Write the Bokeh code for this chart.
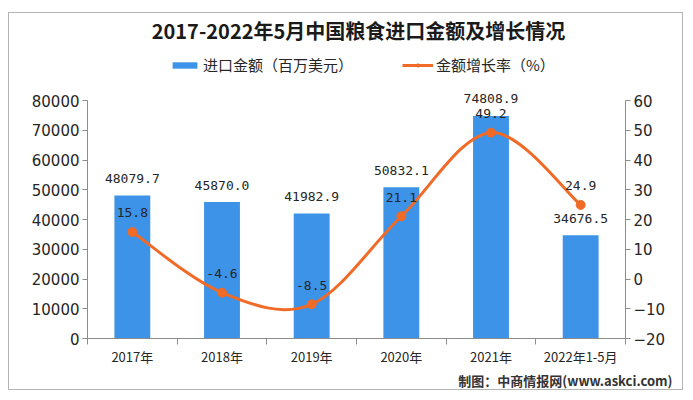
from bokeh.plotting import figure
from bokeh.models import (Range1d, LinearAxis, FixedTicker, ColumnDataSource, Title, Label,
                          Legend, LegendItem, LabelSet, NumeralTickFormatter)
from bokeh.core.properties import value
from bokeh.embed import file_html
from bokeh.resources import INLINE

# ---------------- data ----------------
categories = ["2017年", "2018年", "2019年", "2020年", "2021年", "2022年1-5月"]
import_value = [48079.7, 45870.0, 41982.9, 50832.1, 74808.9, 34676.5]   # 百万美元
growth_rate = [15.8, -4.6, -8.5, 21.1, 49.2, 24.9]                      # %
value_labels = ["48079.7", "45870.0", "41982.9", "50832.1", "74808.9", "34676.5"]
rate_labels = ["15.8", "-4.6", "-8.5", "21.1", "49.2", "24.9"]
left_ticks = [0, 10000, 20000, 30000, 40000, 50000, 60000, 70000, 80000]
right_ticks = [-20, -10, 0, 10, 20, 30, 40, 50, 60]
title_text = "2017-2022年5月中国粮食进口金额及增长情况"
legend_bar = "进口金额（百万美元）"
legend_line = "金额增长率（%）"
footer_text = "制图：中商情报网(www.askci.com)"

# ---------------- style / layout ----------------
BAR = "#3C93E8"
LINE = "#F06A28"
AXIS = "#8C8C8C"
TXT = "#262626"
CJK = "Noto Sans CJK SC"
W, H = 675, 378
B_TOP, B_BOTTOM, B_LEFT, B_RIGHT = 0, 53, 78, 59
AXIS_PX = 238                      # pixel height of the 0..80000 axis span
FRAME_H = H - B_TOP - B_BOTTOM
LMIN, LMAX = left_ticks[0], left_ticks[-1]
RMIN, RMAX = right_ticks[0], right_ticks[-1]
ext = FRAME_H / AXIS_PX

n = len(categories)
xs = [i + 0.5 for i in range(n)]

p = figure(width=W, height=H, output_backend="svg", toolbar_location=None, title=None,
           x_range=Range1d(0, n),
           y_range=Range1d(LMIN, LMIN + (LMAX - LMIN) * ext),
           min_border_left=B_LEFT, min_border_right=B_RIGHT,
           min_border_top=B_TOP, min_border_bottom=B_BOTTOM,
           background_fill_color="white", border_fill_color="white",
           margin=(12, 0, 0, 8), styles={"border": "1px solid #B4B4B4"})
p.extra_y_ranges = {"rate": Range1d(RMIN, RMIN + (RMAX - RMIN) * ext)}
p.xgrid.visible = False
p.ygrid.visible = False
p.outline_line_color = None

# bars
src = ColumnDataSource(dict(x=xs, top=import_value, lab=value_labels,
                            rate=growth_rate, rlab=rate_labels))
bars = p.vbar(x="x", top="top", width=0.4, source=src, fill_color=BAR, line_color=None)

# smoothed line drawn with bezier segments (control points from neighbouring data points)
x0, y0, x1, y1, cx0, cy0, cx1, cy1 = [], [], [], [], [], [], [], []
for i in range(n - 1):
    pa = (xs[max(i - 1, 0)], growth_rate[max(i - 1, 0)])
    pb = (xs[i], growth_rate[i])
    pc = (xs[i + 1], growth_rate[i + 1])
    pd = (xs[min(i + 2, n - 1)], growth_rate[min(i + 2, n - 1)])
    x0.append(pb[0]); y0.append(pb[1]); x1.append(pc[0]); y1.append(pc[1])
    cx0.append(pb[0] + (pc[0] - pa[0]) / 6); cy0.append(pb[1] + (pc[1] - pa[1]) / 6)
    cx1.append(pc[0] - (pd[0] - pb[0]) / 6); cy1.append(pc[1] - (pd[1] - pb[1]) / 6)
bsrc = ColumnDataSource(dict(x0=x0, y0=y0, x1=x1, y1=y1, cx0=cx0, cy0=cy0, cx1=cx1, cy1=cy1))
curve = p.bezier(x0="x0", y0="y0", x1="x1", y1="y1", cx0="cx0", cy0="cy0", cx1="cx1", cy1="cy1",
                 source=bsrc, line_color=LINE, line_width=3, y_range_name="rate")
dots = p.scatter(x="x", y="rate", source=src, size=9, fill_color=LINE, line_color=LINE,
                 y_range_name="rate")

# data labels
p.add_layout(LabelSet(x="x", y="top", text="lab", source=src, y_offset=17,
                      text_align="center", text_baseline="middle",
                      text_font=value("DejaVu Sans Mono"), text_font_size="13px", text_color=TXT))
p.add_layout(LabelSet(x="x", y="rate", text="rlab", source=src, y_offset=19, y_range_name="rate",
                      text_align="center", text_baseline="middle",
                      text_font=value("DejaVu Sans Mono"), text_font_size="13px", text_color=TXT))

# axes
xa = p.xaxis[0]
xa.ticker = FixedTicker(ticks=xs, minor_ticks=list(range(n + 1)))
xa.major_label_overrides = {x: c for x, c in zip(xs, categories)}
xa.major_tick_out = 0
xa.major_tick_in = 0
xa.minor_tick_out = 6
xa.minor_tick_in = 0
xa.minor_tick_line_color = AXIS
xa.axis_line_color = AXIS
xa.major_label_text_font = CJK
xa.major_label_text_font_size = "13px"
xa.major_label_text_color = TXT
xa.major_label_standoff = 2

ya = p.yaxis[0]
ya.ticker = FixedTicker(ticks=left_ticks)
ya.formatter = NumeralTickFormatter(format="0")
ya.bounds = (LMIN, LMAX)
ya.major_tick_out = 5
ya.major_tick_in = 0
ya.minor_tick_out = 0
ya.minor_tick_in = 0
ya.axis_line_color = AXIS
ya.major_tick_line_color = AXIS
ya.major_label_text_font = "DejaVu Sans"
ya.major_label_text_font_size = "15px"
ya.major_label_text_color = TXT
ya.major_label_standoff = 3

ra = LinearAxis(y_range_name="rate", ticker=FixedTicker(ticks=right_ticks), bounds=(RMIN, RMAX))
ra.major_tick_out = 5
ra.major_tick_in = 0
ra.minor_tick_out = 0
ra.minor_tick_in = 0
ra.axis_line_color = AXIS
ra.major_tick_line_color = AXIS
ra.major_label_text_font = "DejaVu Sans"
ra.major_label_text_font_size = "15px"
ra.major_label_text_color = TXT
ra.major_label_standoff = 3
p.add_layout(ra, "right")

# legend inside the (extended) frame
legend = Legend(items=[LegendItem(label=legend_bar, renderers=[bars]),
                       LegendItem(label=legend_line, renderers=[curve, dots])],
                orientation="horizontal", location=(82, 263), padding=0, margin=0,
                spacing=49, glyph_width=31, glyph_height=8, label_standoff=3,
                label_text_font=CJK, label_text_font_size="15px", label_text_color=TXT,
                border_line_alpha=0, background_fill_alpha=0)
p.add_layout(legend)

# title (screen units, measured from the frame's lower-left corner)
p.add_layout(Label(x=271, y=308, x_units="screen", y_units="screen", text=title_text,
                   text_align="center", text_baseline="middle", text_font=CJK,
                   text_font_size="20px", text_font_style="bold", text_color="#1a1a1a"))

# footer
p.add_layout(Title(text=footer_text, align="right", offset=-47, text_font=CJK,
                   text_font_size="13px", text_font_style="bold", text_color="#333333",
                   standoff=0), "below")

open("out.html", "w").write(file_html(p, INLINE))
